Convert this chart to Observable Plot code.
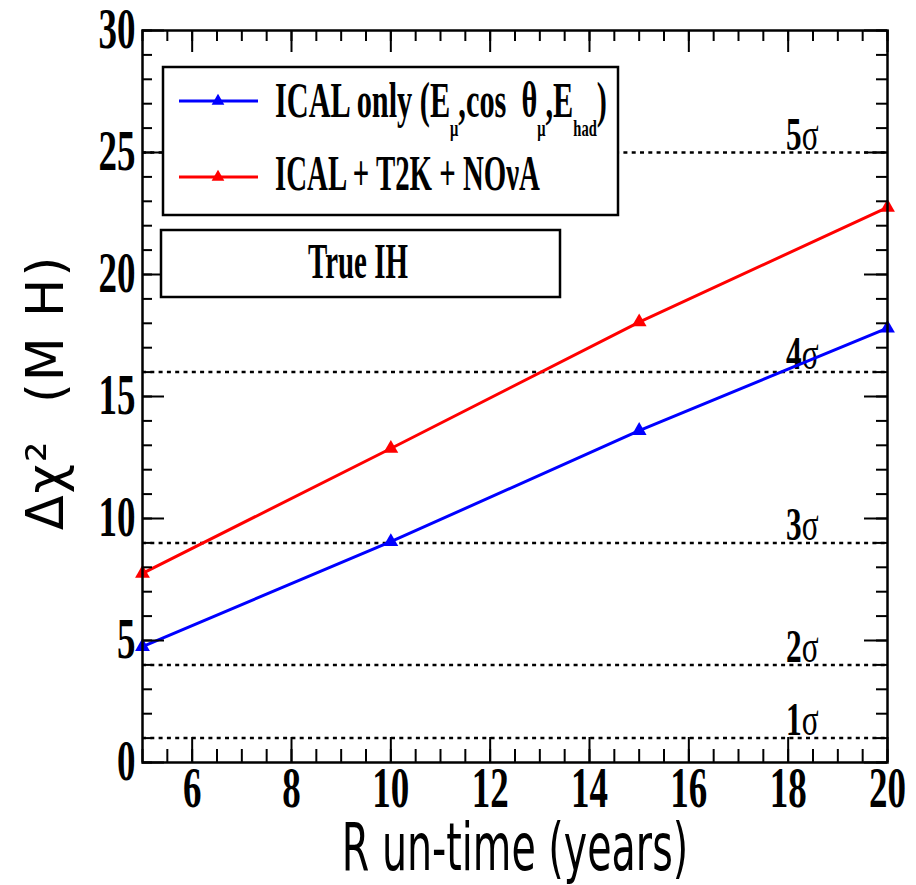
<!DOCTYPE html>
<html>
<head>
<meta charset="utf-8">
<script src="https://cdn.jsdelivr.net/npm/d3@7"></script>
<script src="https://cdn.jsdelivr.net/npm/@observablehq/plot@0.6"></script>
<style>
  html, body { margin: 0; padding: 0; background: #fff; }
  svg text { white-space: pre; }
</style>
</head>
<body>
<script>
// ---- data ----
const runTime = [5, 10, 15, 20];
const icalOnly = [4.75, 9.05, 13.6, 17.8];
const icalT2kNova = [7.75, 12.87, 18.05, 22.75];
const seriesNames = ["ICAL only", "ICAL + T2K + NOνA"];
const seriesColors = ["#0000ff", "#ff0000"];
const sigmaLevels = [1, 4, 9, 16, 25];
const sigmaLabels = ["1σ", "2σ", "3σ", "4σ", "5σ"];
const xTicks = [6, 8, 10, 12, 14, 16, 18, 20];
const yTicks = [0, 5, 10, 15, 20, 25, 30];
const xMinorTicks = d3.range(5, 20.001, 0.5);
const yMinorTicks = d3.range(0, 30.001, 1);
const xTitle = "R un-time (years)";
const yTitle = "Δχ²  (M H)";
const boxTitle = "True IH";

const rows = [];
runTime.forEach((t, i) => {
  rows.push({t, v: icalOnly[i], s: seriesNames[0]});
  rows.push({t, v: icalT2kNova[i], s: seriesNames[1]});
});
const sigmaRows = sigmaLevels.map((v, i) => ({v, label: sigmaLabels[i]}));

const W = 916, H = 885, mL = 142, mR = 29, mT = 30, mB = 123;
const innerH = H - mT - mB;
const innerW = W - mL - mR;
const serif = "Liberation Serif, Times New Roman, serif";
const sans = "DejaVu Sans, sans-serif";

const chart = Plot.plot({
  width: W, height: H,
  marginLeft: mL, marginRight: mR, marginTop: mT, marginBottom: mB,
  style: {background: "white", color: "black", overflow: "visible"},
  x: {domain: [5, 20], axis: null},
  y: {domain: [0, 30], axis: null},
  color: {domain: seriesNames, range: seriesColors},
  marks: [
    // sigma reference lines
    Plot.ruleY(sigmaRows, {y: "v", stroke: "black", strokeWidth: 2.5, strokeDasharray: "4,4.3"}),
    Plot.text(sigmaRows, {y: "v", text: "label", frameAnchor: "right", textAnchor: "end", lineAnchor: "bottom",
      dx: -69, dy: -3, fontFamily: serif, fontWeight: "bold", fontSize: 46, fill: "black"}),
    // series
    Plot.line(rows, {x: "t", y: "v", z: "s", stroke: "s", strokeWidth: 3}),
    Plot.dot(rows, {x: "t", y: "v", fill: "s", symbol: "triangle", r: 5.5, stroke: null}),
    // ticks (inside, ROOT style)
    Plot.tickX(xMinorTicks, {x: d => d, insetTop: innerH - 13, strokeWidth: 2}),
    Plot.tickX(xTicks, {x: d => d, insetTop: innerH - 25, strokeWidth: 2}),
    Plot.tickX(xMinorTicks, {x: d => d, insetBottom: innerH - 11, strokeWidth: 2}),
    Plot.tickX(xTicks, {x: d => d, insetBottom: innerH - 22, strokeWidth: 2}),
    Plot.tickY(yMinorTicks, {y: d => d, insetRight: innerW - 10, strokeWidth: 2}),
    Plot.tickY(yTicks, {y: d => d, insetRight: innerW - 22, strokeWidth: 2}),
    Plot.tickY(yMinorTicks, {y: d => d, insetLeft: innerW - 11, strokeWidth: 2}),
    Plot.tickY(yTicks, {y: d => d, insetLeft: innerW - 23, strokeWidth: 2}),
    Plot.frame({stroke: "black", strokeWidth: 2.5}),
    // tick labels
    Plot.text(xTicks, {x: d => d, text: d => String(d), frameAnchor: "bottom", textAnchor: "middle", lineAnchor: "bottom", dy: 44,
      fontFamily: serif, fontWeight: "bold", fontSize: 56, fill: "black"}),
    Plot.text(yTicks, {y: d => d, text: d => String(d), frameAnchor: "left", textAnchor: "end", dx: -7,
      fontFamily: serif, fontWeight: "bold", fontSize: 56, fill: "black"}),
    // axis titles
    Plot.text([xTitle], {text: d => d, frameAnchor: "bottom", textAnchor: "middle", lineAnchor: "bottom", dy: 107,
      fontFamily: sans, fontSize: 66, fill: "black"}),
    Plot.text([yTitle], {text: d => d, frameAnchor: "left", textAnchor: "middle", lineAnchor: "bottom", rotate: -90, dx: -80, dy: -4,
      fontFamily: sans, fontSize: 51, fill: "black"})
  ]
});
document.body.append(chart);

const svg = d3.select(chart);
function squeeze(sel, s) {
  sel.each(function () {
    const t = this.getAttribute("transform") || "";
    this.setAttribute("transform", t + ` scale(${s},1)`);
  });
}
squeeze(svg.selectAll('g[font-size="56"] text'), 0.66);
squeeze(svg.selectAll('g[font-size="46"] text'), 0.68);
squeeze(svg.selectAll('g[font-size="66"] text'), 0.6);
svg.selectAll('g[font-size="51"] text').attr("letter-spacing", 2);
// sigma symbol in regular weight (ROOT symbol font)
svg.selectAll('g[font-size="46"] text').each(function () {
  const s = this.textContent;
  const num = s.slice(0, -1), sym = s.slice(-1);
  const el = d3.select(this);
  el.text(null);
  el.append("tspan").text(num);
  el.append("tspan").attr("font-weight", "normal").text(sym);
});

// ---- legend boxes ----
function fitText(textSel, x, y, targetW) {
  const bb = textSel.node().getBBox();
  const s = targetW / bb.width;
  textSel.attr("transform", `translate(${x},${y}) scale(${s},1)`);
}
const leg = svg.append("g").attr("class", "legend").attr("text-anchor", "start");
leg.append("rect").attr("x", 163).attr("y", 67).attr("width", 455).attr("height", 148)
  .attr("fill", "white").attr("stroke", "black").attr("stroke-width", 2.5);
const entryY = [101, 177];
seriesNames.forEach((name, i) => {
  leg.append("line").attr("x1", 179).attr("x2", 258).attr("y1", entryY[i]).attr("y2", entryY[i])
    .attr("stroke", seriesColors[i]).attr("stroke-width", 3);
  leg.append("path").attr("d", d3.symbol(d3.symbolTriangle, 70)())
    .attr("transform", `translate(218,${entryY[i]})`).attr("fill", seriesColors[i]);
});
const t1 = leg.append("text").attr("font-family", serif).attr("font-weight", "bold").attr("font-size", 50).attr("fill", "black");
t1.append("tspan").text("ICAL only (E");
t1.append("tspan").attr("dy", 19).attr("font-size", 24).text("μ");
t1.append("tspan").attr("dy", -19).text(",cos  θ");
t1.append("tspan").attr("dy", 19).attr("font-size", 24).text("μ");
t1.append("tspan").attr("dy", -19).text(",E");
t1.append("tspan").attr("dy", 19).attr("font-size", 24).text("had");
t1.append("tspan").attr("dy", -19).text(")");
fitText(t1, 275, 117, 332);
const t2 = leg.append("text").attr("font-family", serif).attr("font-weight", "bold").attr("font-size", 50).attr("fill", "black")
  .text(seriesNames[1]);
fitText(t2, 275, 190, 265);

leg.append("rect").attr("x", 161).attr("y", 230).attr("width", 399).attr("height", 67)
  .attr("fill", "white").attr("stroke", "black").attr("stroke-width", 2.5);
const t3 = leg.append("text").attr("font-family", serif).attr("font-weight", "bold").attr("font-size", 50).attr("fill", "black")
  .attr("text-anchor", "middle").text(boxTitle);
fitText(t3, 358, 278, 100);
</script>
</body>
</html>
